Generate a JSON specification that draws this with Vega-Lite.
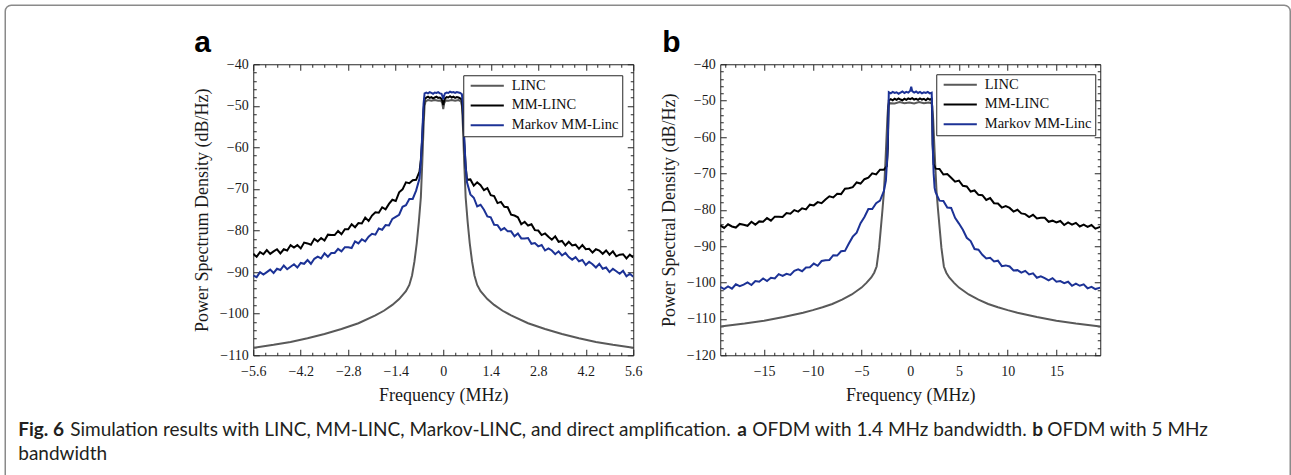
{
  "$schema": "https://vega.github.io/schema/vega-lite/v6.json",
  "background": "white",
  "padding": {"left": 4.25, "top": 4.25, "right": 0, "bottom": 0},
  "config": {
    "view": {"stroke": null},
    "axis": {"labelFont": "Liberation Serif", "titleFont": "Liberation Serif", "labelFontSize": 14, "titleFontSize": 18, "titleFontWeight": "normal", "labelColor": "#1a1a1a", "titleColor": "#1a1a1a", "tickColor": "#262626", "grid": false, "domain": false, "minExtent": 0},
    "legend": {"labelFont": "Liberation Serif", "labelFontSize": 14.5, "labelColor": "#111111", "labelLimit": 0}
  },
  "datasets": {
    "a": [
      {"s":"LINC","f":-5.6,"p":-108.2},{"s":"LINC","f":-5.0,"p":-107.5},{"s":"LINC","f":-4.5,"p":-106.8},{"s":"LINC","f":-4.0,"p":-105.9},{"s":"LINC","f":-3.5,"p":-104.9},{"s":"LINC","f":-3.0,"p":-103.7},{"s":"LINC","f":-2.5,"p":-102.3},{"s":"LINC","f":-2.0,"p":-100.4},{"s":"LINC","f":-1.75,"p":-99.3},{"s":"LINC","f":-1.5,"p":-97.9},{"s":"LINC","f":-1.3,"p":-96.5},{"s":"LINC","f":-1.1,"p":-94.6},{"s":"LINC","f":-1.0,"p":-93.1},{"s":"LINC","f":-0.92,"p":-90.8},{"s":"LINC","f":-0.85,"p":-87.5},{"s":"LINC","f":-0.78,"p":-83},{"s":"LINC","f":-0.72,"p":-78},{"s":"LINC","f":-0.66,"p":-72},{"s":"LINC","f":-0.62,"p":-64},{"s":"LINC","f":-0.58,"p":-55},{"s":"LINC","f":-0.55,"p":-50},{"s":"LINC","f":-0.52,"p":-48.9},{"s":"LINC","f":-0.45,"p":-48.6},{"s":"LINC","f":-0.35,"p":-48.8},{"s":"LINC","f":-0.25,"p":-48.6},{"s":"LINC","f":-0.15,"p":-48.8},{"s":"LINC","f":-0.07,"p":-48.7},{"s":"LINC","f":-0.03,"p":-49.3},{"s":"LINC","f":0,"p":-50.8},{"s":"LINC","f":0.03,"p":-49.3},{"s":"LINC","f":0.07,"p":-48.7},{"s":"LINC","f":0.15,"p":-48.8},{"s":"LINC","f":0.25,"p":-48.6},{"s":"LINC","f":0.35,"p":-48.8},{"s":"LINC","f":0.45,"p":-48.6},{"s":"LINC","f":0.52,"p":-48.9},{"s":"LINC","f":0.55,"p":-50},{"s":"LINC","f":0.58,"p":-55},{"s":"LINC","f":0.62,"p":-64},{"s":"LINC","f":0.66,"p":-72},{"s":"LINC","f":0.72,"p":-78},{"s":"LINC","f":0.78,"p":-83},{"s":"LINC","f":0.85,"p":-87.5},{"s":"LINC","f":0.92,"p":-90.8},{"s":"LINC","f":1.0,"p":-93.1},{"s":"LINC","f":1.1,"p":-94.6},{"s":"LINC","f":1.3,"p":-96.5},{"s":"LINC","f":1.5,"p":-97.9},{"s":"LINC","f":1.75,"p":-99.3},{"s":"LINC","f":2.0,"p":-100.4},{"s":"LINC","f":2.5,"p":-102.3},{"s":"LINC","f":3.0,"p":-103.7},{"s":"LINC","f":3.5,"p":-104.9},{"s":"LINC","f":4.0,"p":-105.9},{"s":"LINC","f":4.5,"p":-106.8},{"s":"LINC","f":5.0,"p":-107.5},{"s":"LINC","f":5.6,"p":-108.2},
      {"s":"MM-LINC","f":-5.6,"p":-85.6},{"s":"MM-LINC","f":-5.5,"p":-86.3},{"s":"MM-LINC","f":-5.4,"p":-85.2},{"s":"MM-LINC","f":-5.3,"p":-85.7},{"s":"MM-LINC","f":-5.2,"p":-84.7},{"s":"MM-LINC","f":-5.1,"p":-85.6},{"s":"MM-LINC","f":-5.0,"p":-85.0},{"s":"MM-LINC","f":-4.9,"p":-84.5},{"s":"MM-LINC","f":-4.8,"p":-85.5},{"s":"MM-LINC","f":-4.7,"p":-84.5},{"s":"MM-LINC","f":-4.6,"p":-84.8},{"s":"MM-LINC","f":-4.5,"p":-83.5},{"s":"MM-LINC","f":-4.4,"p":-84.1},{"s":"MM-LINC","f":-4.3,"p":-83.5},{"s":"MM-LINC","f":-4.2,"p":-84.3},{"s":"MM-LINC","f":-4.1,"p":-82.9},{"s":"MM-LINC","f":-4.0,"p":-83.1},{"s":"MM-LINC","f":-3.9,"p":-83.4},{"s":"MM-LINC","f":-3.8,"p":-82.0},{"s":"MM-LINC","f":-3.7,"p":-82.6},{"s":"MM-LINC","f":-3.6,"p":-81.8},{"s":"MM-LINC","f":-3.5,"p":-82.4},{"s":"MM-LINC","f":-3.4,"p":-81.0},{"s":"MM-LINC","f":-3.3,"p":-81.1},{"s":"MM-LINC","f":-3.2,"p":-81.1},{"s":"MM-LINC","f":-3.1,"p":-80.1},{"s":"MM-LINC","f":-3.0,"p":-80.9},{"s":"MM-LINC","f":-2.9,"p":-79.7},{"s":"MM-LINC","f":-2.8,"p":-79.7},{"s":"MM-LINC","f":-2.7,"p":-78.5},{"s":"MM-LINC","f":-2.6,"p":-79.2},{"s":"MM-LINC","f":-2.5,"p":-78.2},{"s":"MM-LINC","f":-2.4,"p":-78.3},{"s":"MM-LINC","f":-2.3,"p":-76.9},{"s":"MM-LINC","f":-2.2,"p":-77.7},{"s":"MM-LINC","f":-2.1,"p":-76.4},{"s":"MM-LINC","f":-2.0,"p":-75.6},{"s":"MM-LINC","f":-1.9,"p":-75.7},{"s":"MM-LINC","f":-1.8,"p":-74.4},{"s":"MM-LINC","f":-1.7,"p":-74.9},{"s":"MM-LINC","f":-1.6,"p":-73.6},{"s":"MM-LINC","f":-1.5,"p":-72.6},{"s":"MM-LINC","f":-1.4,"p":-72.9},{"s":"MM-LINC","f":-1.3,"p":-70.8},{"s":"MM-LINC","f":-1.2,"p":-70.1},{"s":"MM-LINC","f":-1.1,"p":-68.4},{"s":"MM-LINC","f":-1.0,"p":-68.6},{"s":"MM-LINC","f":-0.9,"p":-67.9},{"s":"MM-LINC","f":-0.8,"p":-67.8},{"s":"MM-LINC","f":-0.7,"p":-65.8},{"s":"MM-LINC","f":-0.66,"p":-63},{"s":"MM-LINC","f":-0.62,"p":-58},{"s":"MM-LINC","f":-0.58,"p":-51},{"s":"MM-LINC","f":-0.55,"p":-48.4},{"s":"MM-LINC","f":-0.5,"p":-48.0},{"s":"MM-LINC","f":-0.45,"p":-47.8},{"s":"MM-LINC","f":-0.4,"p":-48.1},{"s":"MM-LINC","f":-0.35,"p":-47.9},{"s":"MM-LINC","f":-0.3,"p":-48.2},{"s":"MM-LINC","f":-0.25,"p":-48.0},{"s":"MM-LINC","f":-0.2,"p":-47.8},{"s":"MM-LINC","f":-0.15,"p":-48.1},{"s":"MM-LINC","f":-0.1,"p":-48.0},{"s":"MM-LINC","f":-0.05,"p":-48.3},{"s":"MM-LINC","f":-0.02,"p":-49.0},{"s":"MM-LINC","f":0,"p":-49.8},{"s":"MM-LINC","f":0.02,"p":-49.0},{"s":"MM-LINC","f":0.05,"p":-48.2},{"s":"MM-LINC","f":0.1,"p":-47.9},{"s":"MM-LINC","f":0.15,"p":-48.0},{"s":"MM-LINC","f":0.2,"p":-47.7},{"s":"MM-LINC","f":0.25,"p":-48.0},{"s":"MM-LINC","f":0.3,"p":-47.8},{"s":"MM-LINC","f":0.35,"p":-48.1},{"s":"MM-LINC","f":0.4,"p":-47.9},{"s":"MM-LINC","f":0.45,"p":-48.0},{"s":"MM-LINC","f":0.5,"p":-48.2},{"s":"MM-LINC","f":0.55,"p":-48.5},{"s":"MM-LINC","f":0.58,"p":-52},{"s":"MM-LINC","f":0.62,"p":-59},{"s":"MM-LINC","f":0.66,"p":-64.5},{"s":"MM-LINC","f":0.7,"p":-67.8},{"s":"MM-LINC","f":0.8,"p":-67.7},{"s":"MM-LINC","f":0.9,"p":-69.2},{"s":"MM-LINC","f":1.0,"p":-68.4},{"s":"MM-LINC","f":1.1,"p":-69.1},{"s":"MM-LINC","f":1.2,"p":-70.3},{"s":"MM-LINC","f":1.3,"p":-69.8},{"s":"MM-LINC","f":1.4,"p":-71.5},{"s":"MM-LINC","f":1.5,"p":-71.7},{"s":"MM-LINC","f":1.6,"p":-73.4},{"s":"MM-LINC","f":1.7,"p":-73.1},{"s":"MM-LINC","f":1.8,"p":-74.3},{"s":"MM-LINC","f":1.9,"p":-74.4},{"s":"MM-LINC","f":2.0,"p":-76.2},{"s":"MM-LINC","f":2.1,"p":-76.4},{"s":"MM-LINC","f":2.2,"p":-76.8},{"s":"MM-LINC","f":2.3,"p":-78.5},{"s":"MM-LINC","f":2.4,"p":-77.9},{"s":"MM-LINC","f":2.5,"p":-78.8},{"s":"MM-LINC","f":2.6,"p":-78.5},{"s":"MM-LINC","f":2.7,"p":-79.9},{"s":"MM-LINC","f":2.8,"p":-80.0},{"s":"MM-LINC","f":2.9,"p":-81.1},{"s":"MM-LINC","f":3.0,"p":-80.7},{"s":"MM-LINC","f":3.1,"p":-81.5},{"s":"MM-LINC","f":3.2,"p":-82.2},{"s":"MM-LINC","f":3.3,"p":-81.4},{"s":"MM-LINC","f":3.4,"p":-82.7},{"s":"MM-LINC","f":3.5,"p":-82.5},{"s":"MM-LINC","f":3.6,"p":-83.6},{"s":"MM-LINC","f":3.7,"p":-82.7},{"s":"MM-LINC","f":3.8,"p":-83.6},{"s":"MM-LINC","f":3.9,"p":-83.4},{"s":"MM-LINC","f":4.0,"p":-84.4},{"s":"MM-LINC","f":4.1,"p":-83.5},{"s":"MM-LINC","f":4.2,"p":-84.5},{"s":"MM-LINC","f":4.3,"p":-84.4},{"s":"MM-LINC","f":4.4,"p":-85.3},{"s":"MM-LINC","f":4.5,"p":-84.5},{"s":"MM-LINC","f":4.6,"p":-84.8},{"s":"MM-LINC","f":4.7,"p":-85.6},{"s":"MM-LINC","f":4.8,"p":-84.8},{"s":"MM-LINC","f":4.9,"p":-85.8},{"s":"MM-LINC","f":5.0,"p":-85.0},{"s":"MM-LINC","f":5.1,"p":-86.2},{"s":"MM-LINC","f":5.2,"p":-85.8},{"s":"MM-LINC","f":5.3,"p":-85.7},{"s":"MM-LINC","f":5.4,"p":-86.7},{"s":"MM-LINC","f":5.5,"p":-85.8},{"s":"MM-LINC","f":5.6,"p":-86.5},
      {"s":"Markov MM-Linc","f":-5.6,"p":-90.8},{"s":"Markov MM-Linc","f":-5.5,"p":-91.2},{"s":"Markov MM-Linc","f":-5.4,"p":-90.0},{"s":"Markov MM-Linc","f":-5.3,"p":-90.6},{"s":"Markov MM-Linc","f":-5.2,"p":-90.0},{"s":"Markov MM-Linc","f":-5.1,"p":-89.4},{"s":"Markov MM-Linc","f":-5.0,"p":-90.2},{"s":"Markov MM-Linc","f":-4.9,"p":-89.2},{"s":"Markov MM-Linc","f":-4.8,"p":-89.5},{"s":"Markov MM-Linc","f":-4.7,"p":-88.4},{"s":"Markov MM-Linc","f":-4.6,"p":-89.3},{"s":"Markov MM-Linc","f":-4.5,"p":-88.7},{"s":"Markov MM-Linc","f":-4.4,"p":-88.1},{"s":"Markov MM-Linc","f":-4.3,"p":-88.9},{"s":"Markov MM-Linc","f":-4.2,"p":-87.8},{"s":"Markov MM-Linc","f":-4.1,"p":-88.0},{"s":"Markov MM-Linc","f":-4.0,"p":-87.1},{"s":"Markov MM-Linc","f":-3.9,"p":-88.0},{"s":"Markov MM-Linc","f":-3.8,"p":-86.8},{"s":"Markov MM-Linc","f":-3.7,"p":-86.3},{"s":"Markov MM-Linc","f":-3.6,"p":-86.7},{"s":"Markov MM-Linc","f":-3.5,"p":-85.5},{"s":"Markov MM-Linc","f":-3.4,"p":-86.3},{"s":"Markov MM-Linc","f":-3.3,"p":-85.4},{"s":"Markov MM-Linc","f":-3.2,"p":-85.4},{"s":"Markov MM-Linc","f":-3.1,"p":-84.4},{"s":"Markov MM-Linc","f":-3.0,"p":-85.0},{"s":"Markov MM-Linc","f":-2.9,"p":-84.0},{"s":"Markov MM-Linc","f":-2.8,"p":-84.0},{"s":"Markov MM-Linc","f":-2.7,"p":-84.2},{"s":"Markov MM-Linc","f":-2.6,"p":-82.6},{"s":"Markov MM-Linc","f":-2.5,"p":-83.1},{"s":"Markov MM-Linc","f":-2.4,"p":-82.1},{"s":"Markov MM-Linc","f":-2.3,"p":-82.6},{"s":"Markov MM-Linc","f":-2.2,"p":-81.5},{"s":"Markov MM-Linc","f":-2.1,"p":-80.8},{"s":"Markov MM-Linc","f":-2.0,"p":-81.0},{"s":"Markov MM-Linc","f":-1.9,"p":-79.5},{"s":"Markov MM-Linc","f":-1.8,"p":-79.8},{"s":"Markov MM-Linc","f":-1.7,"p":-78.7},{"s":"Markov MM-Linc","f":-1.6,"p":-78.8},{"s":"Markov MM-Linc","f":-1.5,"p":-77.2},{"s":"Markov MM-Linc","f":-1.4,"p":-76.7},{"s":"Markov MM-Linc","f":-1.3,"p":-76.2},{"s":"Markov MM-Linc","f":-1.2,"p":-74.3},{"s":"Markov MM-Linc","f":-1.1,"p":-73.9},{"s":"Markov MM-Linc","f":-1.0,"p":-72.4},{"s":"Markov MM-Linc","f":-0.9,"p":-72.4},{"s":"Markov MM-Linc","f":-0.8,"p":-70.4},{"s":"Markov MM-Linc","f":-0.7,"p":-67.5},{"s":"Markov MM-Linc","f":-0.66,"p":-63.5},{"s":"Markov MM-Linc","f":-0.62,"p":-57},{"s":"Markov MM-Linc","f":-0.58,"p":-49.5},{"s":"Markov MM-Linc","f":-0.55,"p":-47.0},{"s":"Markov MM-Linc","f":-0.5,"p":-46.8},{"s":"Markov MM-Linc","f":-0.45,"p":-47.0},{"s":"Markov MM-Linc","f":-0.4,"p":-46.7},{"s":"Markov MM-Linc","f":-0.35,"p":-46.9},{"s":"Markov MM-Linc","f":-0.3,"p":-47.1},{"s":"Markov MM-Linc","f":-0.25,"p":-46.8},{"s":"Markov MM-Linc","f":-0.2,"p":-46.9},{"s":"Markov MM-Linc","f":-0.15,"p":-46.7},{"s":"Markov MM-Linc","f":-0.1,"p":-47.0},{"s":"Markov MM-Linc","f":-0.05,"p":-47.1},{"s":"Markov MM-Linc","f":-0.02,"p":-47.8},{"s":"Markov MM-Linc","f":0,"p":-48.4},{"s":"Markov MM-Linc","f":0.02,"p":-47.7},{"s":"Markov MM-Linc","f":0.05,"p":-47.0},{"s":"Markov MM-Linc","f":0.1,"p":-46.8},{"s":"Markov MM-Linc","f":0.15,"p":-46.9},{"s":"Markov MM-Linc","f":0.2,"p":-46.6},{"s":"Markov MM-Linc","f":0.25,"p":-46.8},{"s":"Markov MM-Linc","f":0.3,"p":-46.7},{"s":"Markov MM-Linc","f":0.35,"p":-46.9},{"s":"Markov MM-Linc","f":0.4,"p":-46.7},{"s":"Markov MM-Linc","f":0.45,"p":-46.8},{"s":"Markov MM-Linc","f":0.5,"p":-46.9},{"s":"Markov MM-Linc","f":0.55,"p":-47.2},{"s":"Markov MM-Linc","f":0.58,"p":-50},{"s":"Markov MM-Linc","f":0.62,"p":-58},{"s":"Markov MM-Linc","f":0.66,"p":-64.5},{"s":"Markov MM-Linc","f":0.7,"p":-68.4},{"s":"Markov MM-Linc","f":0.8,"p":-71.3},{"s":"Markov MM-Linc","f":0.9,"p":-72.1},{"s":"Markov MM-Linc","f":1.0,"p":-74.2},{"s":"Markov MM-Linc","f":1.1,"p":-73.8},{"s":"Markov MM-Linc","f":1.2,"p":-75.0},{"s":"Markov MM-Linc","f":1.3,"p":-76.6},{"s":"Markov MM-Linc","f":1.4,"p":-76.8},{"s":"Markov MM-Linc","f":1.5,"p":-78.6},{"s":"Markov MM-Linc","f":1.6,"p":-78.7},{"s":"Markov MM-Linc","f":1.7,"p":-79.9},{"s":"Markov MM-Linc","f":1.8,"p":-79.4},{"s":"Markov MM-Linc","f":1.9,"p":-80.2},{"s":"Markov MM-Linc","f":2.0,"p":-80.2},{"s":"Markov MM-Linc","f":2.1,"p":-81.4},{"s":"Markov MM-Linc","f":2.2,"p":-80.7},{"s":"Markov MM-Linc","f":2.3,"p":-81.9},{"s":"Markov MM-Linc","f":2.4,"p":-81.9},{"s":"Markov MM-Linc","f":2.5,"p":-81.8},{"s":"Markov MM-Linc","f":2.6,"p":-83.2},{"s":"Markov MM-Linc","f":2.7,"p":-83.0},{"s":"Markov MM-Linc","f":2.8,"p":-83.8},{"s":"Markov MM-Linc","f":2.9,"p":-83.5},{"s":"Markov MM-Linc","f":3.0,"p":-84.8},{"s":"Markov MM-Linc","f":3.1,"p":-84.3},{"s":"Markov MM-Linc","f":3.2,"p":-84.8},{"s":"Markov MM-Linc","f":3.3,"p":-85.7},{"s":"Markov MM-Linc","f":3.4,"p":-85.0},{"s":"Markov MM-Linc","f":3.5,"p":-86.0},{"s":"Markov MM-Linc","f":3.6,"p":-85.4},{"s":"Markov MM-Linc","f":3.7,"p":-86.4},{"s":"Markov MM-Linc","f":3.8,"p":-87.0},{"s":"Markov MM-Linc","f":3.9,"p":-86.4},{"s":"Markov MM-Linc","f":4.0,"p":-87.4},{"s":"Markov MM-Linc","f":4.1,"p":-87.1},{"s":"Markov MM-Linc","f":4.2,"p":-88.3},{"s":"Markov MM-Linc","f":4.3,"p":-87.5},{"s":"Markov MM-Linc","f":4.4,"p":-88.1},{"s":"Markov MM-Linc","f":4.5,"p":-88.9},{"s":"Markov MM-Linc","f":4.6,"p":-88.0},{"s":"Markov MM-Linc","f":4.7,"p":-89.2},{"s":"Markov MM-Linc","f":4.8,"p":-88.9},{"s":"Markov MM-Linc","f":4.9,"p":-90.0},{"s":"Markov MM-Linc","f":5.0,"p":-89.2},{"s":"Markov MM-Linc","f":5.1,"p":-89.8},{"s":"Markov MM-Linc","f":5.2,"p":-90.4},{"s":"Markov MM-Linc","f":5.3,"p":-89.7},{"s":"Markov MM-Linc","f":5.4,"p":-91.0},{"s":"Markov MM-Linc","f":5.5,"p":-90.4},{"s":"Markov MM-Linc","f":5.6,"p":-91.1}
    ],
    "b": [
      {"s":"LINC","f":-19.5,"p":-112.1},{"s":"LINC","f":-17,"p":-111.3},{"s":"LINC","f":-15,"p":-110.5},{"s":"LINC","f":-13,"p":-109.5},{"s":"LINC","f":-11,"p":-108.3},{"s":"LINC","f":-10,"p":-107.6},{"s":"LINC","f":-9,"p":-106.8},{"s":"LINC","f":-8,"p":-105.9},{"s":"LINC","f":-7,"p":-104.7},{"s":"LINC","f":-6,"p":-103.3},{"s":"LINC","f":-5,"p":-101.4},{"s":"LINC","f":-4.5,"p":-100.1},{"s":"LINC","f":-4,"p":-98.6},{"s":"LINC","f":-3.7,"p":-97.3},{"s":"LINC","f":-3.45,"p":-95.6},{"s":"LINC","f":-3.2,"p":-90.5},{"s":"LINC","f":-3.05,"p":-86},{"s":"LINC","f":-2.85,"p":-80},{"s":"LINC","f":-2.7,"p":-75},{"s":"LINC","f":-2.55,"p":-67},{"s":"LINC","f":-2.45,"p":-61},{"s":"LINC","f":-2.35,"p":-55},{"s":"LINC","f":-2.27,"p":-51.5},{"s":"LINC","f":-2.2,"p":-50.7},{"s":"LINC","f":-1.6,"p":-50.8},{"s":"LINC","f":-1.1,"p":-50.4},{"s":"LINC","f":-0.6,"p":-50.7},{"s":"LINC","f":-0.1,"p":-50.5},{"s":"LINC","f":0.4,"p":-50.8},{"s":"LINC","f":0.9,"p":-50.4},{"s":"LINC","f":1.4,"p":-50.7},{"s":"LINC","f":1.9,"p":-50.5},{"s":"LINC","f":2.2,"p":-50.7},{"s":"LINC","f":2.27,"p":-51.5},{"s":"LINC","f":2.35,"p":-55},{"s":"LINC","f":2.45,"p":-61},{"s":"LINC","f":2.55,"p":-67},{"s":"LINC","f":2.7,"p":-75},{"s":"LINC","f":2.85,"p":-80},{"s":"LINC","f":3.05,"p":-86},{"s":"LINC","f":3.2,"p":-90.5},{"s":"LINC","f":3.45,"p":-95.6},{"s":"LINC","f":3.7,"p":-97.3},{"s":"LINC","f":4,"p":-98.6},{"s":"LINC","f":4.5,"p":-100.1},{"s":"LINC","f":5,"p":-101.4},{"s":"LINC","f":6,"p":-103.3},{"s":"LINC","f":7,"p":-104.7},{"s":"LINC","f":8,"p":-105.9},{"s":"LINC","f":9,"p":-106.8},{"s":"LINC","f":10,"p":-107.6},{"s":"LINC","f":11,"p":-108.3},{"s":"LINC","f":13,"p":-109.5},{"s":"LINC","f":15,"p":-110.5},{"s":"LINC","f":17,"p":-111.3},{"s":"LINC","f":19.5,"p":-112.1},
      {"s":"MM-LINC","f":-19.5,"p":-84.3},{"s":"MM-LINC","f":-19.1,"p":-85.0},{"s":"MM-LINC","f":-18.7,"p":-84.0},{"s":"MM-LINC","f":-18.3,"p":-84.6},{"s":"MM-LINC","f":-17.9,"p":-84.9},{"s":"MM-LINC","f":-17.5,"p":-83.9},{"s":"MM-LINC","f":-17.1,"p":-84.1},{"s":"MM-LINC","f":-16.7,"p":-84.4},{"s":"MM-LINC","f":-16.3,"p":-83.3},{"s":"MM-LINC","f":-15.9,"p":-84.1},{"s":"MM-LINC","f":-15.5,"p":-83.2},{"s":"MM-LINC","f":-15.1,"p":-83.3},{"s":"MM-LINC","f":-14.7,"p":-82.3},{"s":"MM-LINC","f":-14.3,"p":-83.0},{"s":"MM-LINC","f":-13.9,"p":-81.9},{"s":"MM-LINC","f":-13.5,"p":-81.9},{"s":"MM-LINC","f":-13.1,"p":-82.0},{"s":"MM-LINC","f":-12.7,"p":-80.9},{"s":"MM-LINC","f":-12.3,"p":-81.1},{"s":"MM-LINC","f":-11.9,"p":-80.1},{"s":"MM-LINC","f":-11.5,"p":-80.5},{"s":"MM-LINC","f":-11.1,"p":-79.6},{"s":"MM-LINC","f":-10.7,"p":-79.9},{"s":"MM-LINC","f":-10.3,"p":-78.6},{"s":"MM-LINC","f":-9.9,"p":-78.8},{"s":"MM-LINC","f":-9.5,"p":-77.9},{"s":"MM-LINC","f":-9.1,"p":-78.2},{"s":"MM-LINC","f":-8.7,"p":-77.2},{"s":"MM-LINC","f":-8.3,"p":-76.3},{"s":"MM-LINC","f":-7.9,"p":-76.6},{"s":"MM-LINC","f":-7.5,"p":-75.6},{"s":"MM-LINC","f":-7.1,"p":-75.7},{"s":"MM-LINC","f":-6.7,"p":-74.2},{"s":"MM-LINC","f":-6.3,"p":-74.1},{"s":"MM-LINC","f":-5.9,"p":-73.8},{"s":"MM-LINC","f":-5.5,"p":-72.5},{"s":"MM-LINC","f":-5.1,"p":-72.8},{"s":"MM-LINC","f":-4.7,"p":-71.6},{"s":"MM-LINC","f":-4.3,"p":-71.2},{"s":"MM-LINC","f":-3.9,"p":-70.0},{"s":"MM-LINC","f":-3.5,"p":-70.3},{"s":"MM-LINC","f":-3.1,"p":-69.0},{"s":"MM-LINC","f":-2.7,"p":-69.0},{"s":"MM-LINC","f":-2.4,"p":-68.0},{"s":"MM-LINC","f":-2.3,"p":-63},{"s":"MM-LINC","f":-2.25,"p":-55},{"s":"MM-LINC","f":-2.2,"p":-49.9},{"s":"MM-LINC","f":-2.0,"p":-49.6},{"s":"MM-LINC","f":-1.8,"p":-49.9},{"s":"MM-LINC","f":-1.6,"p":-49.5},{"s":"MM-LINC","f":-1.4,"p":-49.8},{"s":"MM-LINC","f":-1.2,"p":-49.4},{"s":"MM-LINC","f":-1.0,"p":-49.7},{"s":"MM-LINC","f":-0.8,"p":-49.9},{"s":"MM-LINC","f":-0.6,"p":-49.5},{"s":"MM-LINC","f":-0.4,"p":-49.8},{"s":"MM-LINC","f":-0.2,"p":-49.4},{"s":"MM-LINC","f":0.0,"p":-49.6},{"s":"MM-LINC","f":0.2,"p":-49.3},{"s":"MM-LINC","f":0.4,"p":-49.7},{"s":"MM-LINC","f":0.6,"p":-49.5},{"s":"MM-LINC","f":0.8,"p":-49.8},{"s":"MM-LINC","f":1.0,"p":-49.4},{"s":"MM-LINC","f":1.2,"p":-49.7},{"s":"MM-LINC","f":1.4,"p":-49.5},{"s":"MM-LINC","f":1.6,"p":-49.9},{"s":"MM-LINC","f":1.8,"p":-49.4},{"s":"MM-LINC","f":2.0,"p":-49.7},{"s":"MM-LINC","f":2.2,"p":-49.5},{"s":"MM-LINC","f":2.25,"p":-54},{"s":"MM-LINC","f":2.3,"p":-62},{"s":"MM-LINC","f":2.4,"p":-67.5},{"s":"MM-LINC","f":2.6,"p":-68.7},{"s":"MM-LINC","f":3.0,"p":-68.8},{"s":"MM-LINC","f":3.4,"p":-70.3},{"s":"MM-LINC","f":3.8,"p":-70.2},{"s":"MM-LINC","f":4.2,"p":-71.2},{"s":"MM-LINC","f":4.6,"p":-72.3},{"s":"MM-LINC","f":5.0,"p":-72.0},{"s":"MM-LINC","f":5.4,"p":-73.4},{"s":"MM-LINC","f":5.8,"p":-73.6},{"s":"MM-LINC","f":6.2,"p":-75.0},{"s":"MM-LINC","f":6.6,"p":-74.7},{"s":"MM-LINC","f":7.0,"p":-75.9},{"s":"MM-LINC","f":7.4,"p":-76.0},{"s":"MM-LINC","f":7.8,"p":-77.3},{"s":"MM-LINC","f":8.2,"p":-76.8},{"s":"MM-LINC","f":8.6,"p":-78.2},{"s":"MM-LINC","f":9.0,"p":-78.3},{"s":"MM-LINC","f":9.4,"p":-79.4},{"s":"MM-LINC","f":9.8,"p":-79.0},{"s":"MM-LINC","f":10.2,"p":-79.5},{"s":"MM-LINC","f":10.6,"p":-80.5},{"s":"MM-LINC","f":11.0,"p":-80.0},{"s":"MM-LINC","f":11.4,"p":-81.0},{"s":"MM-LINC","f":11.8,"p":-81.2},{"s":"MM-LINC","f":12.2,"p":-82.0},{"s":"MM-LINC","f":12.6,"p":-81.4},{"s":"MM-LINC","f":13.0,"p":-82.4},{"s":"MM-LINC","f":13.4,"p":-82.2},{"s":"MM-LINC","f":13.8,"p":-82.2},{"s":"MM-LINC","f":14.2,"p":-83.3},{"s":"MM-LINC","f":14.6,"p":-83.0},{"s":"MM-LINC","f":15.0,"p":-83.5},{"s":"MM-LINC","f":15.4,"p":-83.1},{"s":"MM-LINC","f":15.8,"p":-84.2},{"s":"MM-LINC","f":16.2,"p":-83.5},{"s":"MM-LINC","f":16.6,"p":-84.1},{"s":"MM-LINC","f":17.0,"p":-83.6},{"s":"MM-LINC","f":17.4,"p":-84.6},{"s":"MM-LINC","f":17.8,"p":-84.1},{"s":"MM-LINC","f":18.2,"p":-84.7},{"s":"MM-LINC","f":18.6,"p":-84.2},{"s":"MM-LINC","f":19.0,"p":-85.2},{"s":"MM-LINC","f":19.5,"p":-84.7},
      {"s":"Markov MM-Linc","f":-19.5,"p":-101.2},{"s":"Markov MM-Linc","f":-19.1,"p":-101.8},{"s":"Markov MM-Linc","f":-18.7,"p":-101.1},{"s":"Markov MM-Linc","f":-18.3,"p":-101.7},{"s":"Markov MM-Linc","f":-17.9,"p":-100.5},{"s":"Markov MM-Linc","f":-17.5,"p":-101.0},{"s":"Markov MM-Linc","f":-17.1,"p":-100.6},{"s":"Markov MM-Linc","f":-16.7,"p":-100.0},{"s":"Markov MM-Linc","f":-16.3,"p":-100.7},{"s":"Markov MM-Linc","f":-15.9,"p":-99.6},{"s":"Markov MM-Linc","f":-15.5,"p":-99.8},{"s":"Markov MM-Linc","f":-15.1,"p":-98.9},{"s":"Markov MM-Linc","f":-14.7,"p":-99.6},{"s":"Markov MM-Linc","f":-14.3,"p":-98.7},{"s":"Markov MM-Linc","f":-13.9,"p":-98.9},{"s":"Markov MM-Linc","f":-13.5,"p":-97.7},{"s":"Markov MM-Linc","f":-13.1,"p":-98.2},{"s":"Markov MM-Linc","f":-12.7,"p":-97.6},{"s":"Markov MM-Linc","f":-12.3,"p":-97.9},{"s":"Markov MM-Linc","f":-11.9,"p":-96.8},{"s":"Markov MM-Linc","f":-11.5,"p":-96.4},{"s":"Markov MM-Linc","f":-11.1,"p":-96.9},{"s":"Markov MM-Linc","f":-10.7,"p":-95.9},{"s":"Markov MM-Linc","f":-10.3,"p":-95.8},{"s":"Markov MM-Linc","f":-9.9,"p":-94.8},{"s":"Markov MM-Linc","f":-9.5,"p":-95.4},{"s":"Markov MM-Linc","f":-9.1,"p":-94.1},{"s":"Markov MM-Linc","f":-8.7,"p":-93.9},{"s":"Markov MM-Linc","f":-8.3,"p":-93.8},{"s":"Markov MM-Linc","f":-7.9,"p":-92.5},{"s":"Markov MM-Linc","f":-7.5,"p":-92.6},{"s":"Markov MM-Linc","f":-7.1,"p":-91.4},{"s":"Markov MM-Linc","f":-6.7,"p":-91.3},{"s":"Markov MM-Linc","f":-6.3,"p":-89.3},{"s":"Markov MM-Linc","f":-5.9,"p":-87.4},{"s":"Markov MM-Linc","f":-5.5,"p":-86.3},{"s":"Markov MM-Linc","f":-5.1,"p":-83.7},{"s":"Markov MM-Linc","f":-4.7,"p":-82.0},{"s":"Markov MM-Linc","f":-4.3,"p":-79.8},{"s":"Markov MM-Linc","f":-3.9,"p":-79.8},{"s":"Markov MM-Linc","f":-3.5,"p":-78.2},{"s":"Markov MM-Linc","f":-3.1,"p":-77.5},{"s":"Markov MM-Linc","f":-2.7,"p":-74.8},{"s":"Markov MM-Linc","f":-2.5,"p":-72.0},{"s":"Markov MM-Linc","f":-2.35,"p":-65.0},{"s":"Markov MM-Linc","f":-2.25,"p":-55.0},{"s":"Markov MM-Linc","f":-2.2,"p":-47.7},{"s":"Markov MM-Linc","f":-2.0,"p":-48.0},{"s":"Markov MM-Linc","f":-1.8,"p":-47.6},{"s":"Markov MM-Linc","f":-1.6,"p":-47.9},{"s":"Markov MM-Linc","f":-1.4,"p":-47.7},{"s":"Markov MM-Linc","f":-1.2,"p":-48.1},{"s":"Markov MM-Linc","f":-1.0,"p":-47.8},{"s":"Markov MM-Linc","f":-0.8,"p":-47.5},{"s":"Markov MM-Linc","f":-0.6,"p":-47.9},{"s":"Markov MM-Linc","f":-0.4,"p":-47.6},{"s":"Markov MM-Linc","f":-0.2,"p":-47.8},{"s":"Markov MM-Linc","f":0.0,"p":-47.3},{"s":"Markov MM-Linc","f":0.1,"p":-46.2},{"s":"Markov MM-Linc","f":0.2,"p":-47.4},{"s":"Markov MM-Linc","f":0.4,"p":-47.8},{"s":"Markov MM-Linc","f":0.6,"p":-47.5},{"s":"Markov MM-Linc","f":0.8,"p":-47.9},{"s":"Markov MM-Linc","f":1.0,"p":-47.6},{"s":"Markov MM-Linc","f":1.2,"p":-48.0},{"s":"Markov MM-Linc","f":1.4,"p":-47.7},{"s":"Markov MM-Linc","f":1.6,"p":-47.9},{"s":"Markov MM-Linc","f":1.8,"p":-47.6},{"s":"Markov MM-Linc","f":2.0,"p":-48.0},{"s":"Markov MM-Linc","f":2.2,"p":-47.8},{"s":"Markov MM-Linc","f":2.25,"p":-53},{"s":"Markov MM-Linc","f":2.3,"p":-62},{"s":"Markov MM-Linc","f":2.4,"p":-70},{"s":"Markov MM-Linc","f":2.5,"p":-74},{"s":"Markov MM-Linc","f":2.6,"p":-75.2},{"s":"Markov MM-Linc","f":3.0,"p":-77.5},{"s":"Markov MM-Linc","f":3.4,"p":-77.6},{"s":"Markov MM-Linc","f":3.8,"p":-79.4},{"s":"Markov MM-Linc","f":4.2,"p":-79.5},{"s":"Markov MM-Linc","f":4.6,"p":-82.2},{"s":"Markov MM-Linc","f":5.0,"p":-83.8},{"s":"Markov MM-Linc","f":5.4,"p":-85.5},{"s":"Markov MM-Linc","f":5.8,"p":-87.7},{"s":"Markov MM-Linc","f":6.2,"p":-88.6},{"s":"Markov MM-Linc","f":6.6,"p":-90.8},{"s":"Markov MM-Linc","f":7.0,"p":-91.0},{"s":"Markov MM-Linc","f":7.4,"p":-92.4},{"s":"Markov MM-Linc","f":7.8,"p":-93.4},{"s":"Markov MM-Linc","f":8.2,"p":-93.2},{"s":"Markov MM-Linc","f":8.6,"p":-94.2},{"s":"Markov MM-Linc","f":9.0,"p":-94.0},{"s":"Markov MM-Linc","f":9.4,"p":-95.5},{"s":"Markov MM-Linc","f":9.8,"p":-95.3},{"s":"Markov MM-Linc","f":10.2,"p":-95.6},{"s":"Markov MM-Linc","f":10.6,"p":-96.7},{"s":"Markov MM-Linc","f":11.0,"p":-96.6},{"s":"Markov MM-Linc","f":11.4,"p":-97.3},{"s":"Markov MM-Linc","f":11.8,"p":-96.8},{"s":"Markov MM-Linc","f":12.2,"p":-97.8},{"s":"Markov MM-Linc","f":12.6,"p":-97.5},{"s":"Markov MM-Linc","f":13.0,"p":-98.7},{"s":"Markov MM-Linc","f":13.4,"p":-98.3},{"s":"Markov MM-Linc","f":13.8,"p":-98.8},{"s":"Markov MM-Linc","f":14.2,"p":-99.4},{"s":"Markov MM-Linc","f":14.6,"p":-98.8},{"s":"Markov MM-Linc","f":15.0,"p":-99.8},{"s":"Markov MM-Linc","f":15.4,"p":-99.6},{"s":"Markov MM-Linc","f":15.8,"p":-100.2},{"s":"Markov MM-Linc","f":16.2,"p":-99.8},{"s":"Markov MM-Linc","f":16.6,"p":-100.9},{"s":"Markov MM-Linc","f":17.0,"p":-100.3},{"s":"Markov MM-Linc","f":17.4,"p":-100.9},{"s":"Markov MM-Linc","f":17.8,"p":-100.5},{"s":"Markov MM-Linc","f":18.2,"p":-101.6},{"s":"Markov MM-Linc","f":18.6,"p":-101.2},{"s":"Markov MM-Linc","f":19.0,"p":-101.8},{"s":"Markov MM-Linc","f":19.5,"p":-101.4}
    ]
  },
  "resolve": {"scale": {"color": "independent"}, "legend": {"color": "independent"}},
  "bounds": "flush",
  "spacing": 291,
  "vconcat": [
    {
      "hconcat": [
        {"width": 161, "height": 291, "data": {"values": []}, "mark": {"type": "text"}},
        {
          "width": 380, "height": 291,
          "data": {"name": "a"},
          "title": {"text": "a", "anchor": "start", "frame": "group", "dx": -59, "offset": -25, "baseline": "alphabetic", "font": "Liberation Sans", "fontSize": 30, "fontWeight": "bold", "color": "#000000"},
          "view": {"stroke": "#262626", "strokeWidth": 1, "fill": "white"},
          "resolve": {"axis": {"x": "independent", "y": "independent"}},
          "layer": [
            {
              "mark": {"type": "line", "strokeWidth": 2, "clip": true},
              "encoding": {
                "x": {"field": "f", "type": "quantitative", "scale": {"domain": [-5.6, 5.6], "nice": false, "zero": false},
                      "axis": {"orient": "bottom", "values": [-5.6, -4.2, -2.8, -1.4, 0, 1.4, 2.8, 4.2, 5.6], "labelExpr": "datum.value == 0 ? '0' : format(datum.value, '.1f')", "ticks": false, "labelPadding": 9, "labelFlush": false, "title": "Frequency (MHz)", "titlePadding": 8}},
                "y": {"field": "p", "type": "quantitative", "scale": {"domain": [-110, -40], "nice": false, "zero": false},
                      "axis": {"orient": "left", "values": [-110, -100, -90, -80, -70, -60, -50, -40], "ticks": false, "labelPadding": 5, "title": "Power Spectrum Density (dB/Hz)", "titlePadding": 8}},
                "color": {"field": "s", "type": "nominal",
                          "scale": {"domain": ["LINC", "MM-LINC", "Markov MM-Linc"], "range": ["#595959", "#000000", "#1c3296"]},
                          "legend": {"orient": "top-right", "offset": 11, "title": null, "padding": 3.5, "rowPadding": 4.7, "clipHeight": 14, "fillColor": "white", "strokeColor": "#262626", "symbolType": "stroke", "symbolSize": 1100, "symbolStrokeWidth": 2, "symbolOffset": 2.5, "labelOffset": 6.5}}
              }
            },
            {
              "data": {"values": [{}]},
              "mark": {"type": "point", "opacity": 0},
              "encoding": {
                "x": {"datum": 0, "type": "quantitative", "scale": {"domain": [-5.6, 5.6], "nice": false, "zero": false}, "axis": {"orient": "bottom", "values": [-5.6, -4.2, -2.8, -1.4, 0, 1.4, 2.8, 4.2, 5.6], "labels": false, "tickSize": -6, "title": null}},
                "y": {"datum": -50, "type": "quantitative", "scale": {"domain": [-110, -40], "nice": false, "zero": false}, "axis": {"orient": "left", "values": [-110, -100, -90, -80, -70, -60, -50, -40], "labels": false, "tickSize": -6, "title": null}}
              }
            },
            {
              "data": {"values": [{}]},
              "mark": {"type": "point", "opacity": 0},
              "encoding": {
                "x": {"datum": 0, "type": "quantitative", "axis": {"orient": "bottom", "values": [-5.25, -4.9, -4.55, -3.85, -3.5, -3.15, -2.45, -2.1, -1.75, -1.05, -0.7, -0.35, 0.35, 0.7, 1.05, 1.75, 2.1, 2.45, 3.15, 3.5, 3.85, 4.55, 4.9, 5.25], "labels": false, "tickSize": -3, "title": null}},
                "y": {"datum": -50, "type": "quantitative", "axis": {"orient": "left", "values": [-108, -106, -104, -102, -98, -96, -94, -92, -88, -86, -84, -82, -78, -76, -74, -72, -68, -66, -64, -62, -58, -56, -54, -52, -48, -46, -44, -42], "labels": false, "tickSize": -3, "title": null}}
              }
            },
            {
              "data": {"values": [{}]},
              "mark": {"type": "point", "opacity": 0},
              "encoding": {
                "x": {"datum": 0, "type": "quantitative", "axis": {"orient": "top", "values": [-5.6, -4.2, -2.8, -1.4, 0, 1.4, 2.8, 4.2, 5.6], "labels": false, "tickSize": -6, "title": null}},
                "y": {"datum": -50, "type": "quantitative", "axis": {"orient": "right", "values": [-110, -100, -90, -80, -70, -60, -50, -40], "labels": false, "tickSize": -6, "title": null}}
              }
            },
            {
              "data": {"values": [{}]},
              "mark": {"type": "point", "opacity": 0},
              "encoding": {
                "x": {"datum": 0, "type": "quantitative", "axis": {"orient": "top", "values": [-5.25, -4.9, -4.55, -3.85, -3.5, -3.15, -2.45, -2.1, -1.75, -1.05, -0.7, -0.35, 0.35, 0.7, 1.05, 1.75, 2.1, 2.45, 3.15, 3.5, 3.85, 4.55, 4.9, 5.25], "labels": false, "tickSize": -3, "title": null}},
                "y": {"datum": -50, "type": "quantitative", "axis": {"orient": "right", "values": [-108, -106, -104, -102, -98, -96, -94, -92, -88, -86, -84, -82, -78, -76, -74, -72, -68, -66, -64, -62, -58, -56, -54, -52, -48, -46, -44, -42], "labels": false, "tickSize": -3, "title": null}}
              }
            }
          ]
        },
        {
          "width": 380, "height": 291,
          "data": {"name": "b"},
          "title": {"text": "b", "anchor": "start", "frame": "group", "dx": -58, "offset": -25, "baseline": "alphabetic", "font": "Liberation Sans", "fontSize": 30, "fontWeight": "bold", "color": "#000000"},
          "view": {"stroke": "#262626", "strokeWidth": 1, "fill": "white"},
          "resolve": {"axis": {"x": "independent", "y": "independent"}},
          "layer": [
            {
              "mark": {"type": "line", "strokeWidth": 2, "clip": true},
              "encoding": {
                "x": {"field": "f", "type": "quantitative", "scale": {"domain": [-19.5, 19.5], "nice": false, "zero": false},
                      "axis": {"orient": "bottom", "values": [-15, -10, -5, 0, 5, 10, 15], "ticks": false, "labelPadding": 9, "labelFlush": false, "title": "Frequency (MHz)", "titlePadding": 8}},
                "y": {"field": "p", "type": "quantitative", "scale": {"domain": [-120, -40], "nice": false, "zero": false},
                      "axis": {"orient": "left", "values": [-120, -110, -100, -90, -80, -70, -60, -50, -40], "ticks": false, "labelPadding": 5, "title": "Power Spectral Density (dB/Hz)", "titlePadding": 8}},
                "color": {"field": "s", "type": "nominal",
                          "scale": {"domain": ["LINC", "MM-LINC", "Markov MM-Linc"], "range": ["#595959", "#000000", "#1c3296"]},
                          "legend": {"orient": "none", "legendX": 216, "legendY": 10, "title": null, "padding": 3.5, "rowPadding": 4.7, "clipHeight": 14, "fillColor": "white", "strokeColor": "#262626", "symbolType": "stroke", "symbolSize": 1100, "symbolStrokeWidth": 2, "symbolOffset": 2.5, "labelOffset": 6.5}}
              }
            },
            {
              "data": {"values": [{}]},
              "mark": {"type": "point", "opacity": 0},
              "encoding": {
                "x": {"datum": 0, "type": "quantitative", "scale": {"domain": [-19.5, 19.5], "nice": false, "zero": false}, "axis": {"orient": "bottom", "values": [-15, -10, -5, 0, 5, 10, 15], "labels": false, "tickSize": -6, "title": null}},
                "y": {"datum": -50, "type": "quantitative", "scale": {"domain": [-120, -40], "nice": false, "zero": false}, "axis": {"orient": "left", "values": [-120, -110, -100, -90, -80, -70, -60, -50, -40], "labels": false, "tickSize": -6, "title": null}}
              }
            },
            {
              "data": {"values": [{}]},
              "mark": {"type": "point", "opacity": 0},
              "encoding": {
                "x": {"datum": 0, "type": "quantitative", "axis": {"orient": "bottom", "values": [-19, -18, -17, -16, -14, -13, -12, -11, -9, -8, -7, -6, -4, -3, -2, -1, 1, 2, 3, 4, 6, 7, 8, 9, 11, 12, 13, 14, 16, 17, 18, 19], "labels": false, "tickSize": -3, "title": null}},
                "y": {"datum": -50, "type": "quantitative", "axis": {"orient": "left", "values": [-118, -116, -114, -112, -108, -106, -104, -102, -98, -96, -94, -92, -88, -86, -84, -82, -78, -76, -74, -72, -68, -66, -64, -62, -58, -56, -54, -52, -48, -46, -44, -42], "labels": false, "tickSize": -3, "title": null}}
              }
            },
            {
              "data": {"values": [{}]},
              "mark": {"type": "point", "opacity": 0},
              "encoding": {
                "x": {"datum": 0, "type": "quantitative", "axis": {"orient": "top", "values": [-15, -10, -5, 0, 5, 10, 15], "labels": false, "tickSize": -6, "title": null}},
                "y": {"datum": -50, "type": "quantitative", "axis": {"orient": "right", "values": [-120, -110, -100, -90, -80, -70, -60, -50, -40], "labels": false, "tickSize": -6, "title": null}}
              }
            },
            {
              "data": {"values": [{}]},
              "mark": {"type": "point", "opacity": 0},
              "encoding": {
                "x": {"datum": 0, "type": "quantitative", "axis": {"orient": "top", "values": [-19, -18, -17, -16, -14, -13, -12, -11, -9, -8, -7, -6, -4, -3, -2, -1, 1, 2, 3, 4, 6, 7, 8, 9, 11, 12, 13, 14, 16, 17, 18, 19], "labels": false, "tickSize": -3, "title": null}},
                "y": {"datum": -50, "type": "quantitative", "axis": {"orient": "right", "values": [-118, -116, -114, -112, -108, -106, -104, -102, -98, -96, -94, -92, -88, -86, -84, -82, -78, -76, -74, -72, -68, -66, -64, -62, -58, -56, -54, -52, -48, -46, -44, -42], "labels": false, "tickSize": -3, "title": null}}
              }
            }
          ]
        }
      ],
      "spacing": 87,
      "bounds": "flush",
      "resolve": {"scale": {"color": "independent"}, "legend": {"color": "independent"}}
    },
    {
      "width": 1285,
      "height": 120,
      "data": {"values": [{}]},
      "layer": [
        {
          "mark": {"type": "rect", "filled": false, "stroke": "#8a8a8a", "strokeWidth": 1.5, "cornerRadius": 6, "clip": false},
          "encoding": {
            "x": {"datum": 0, "type": "quantitative", "scale": {"domain": [0, 1285], "nice": false, "zero": false}, "axis": null},
            "x2": {"datum": 1285},
            "y": {"datum": 0, "type": "quantitative", "scale": {"domain": [350, 470], "nice": false, "zero": false, "reverse": true}, "axis": null},
            "y2": {"datum": 480}
          }
        },
        {
          "mark": {"type": "text", "text": "Fig. 6", "align": "left", "baseline": "alphabetic", "font": "Lato", "fontWeight": "bold", "fontSize": 19, "color": "#231f20"},
          "encoding": {"x": {"datum": 13, "type": "quantitative", "axis": null}, "y": {"datum": 431, "type": "quantitative", "axis": null}}
        },
        {
          "mark": {"type": "text", "text": "Simulation results with LINC, MM-LINC, Markov-LINC, and direct amplification.", "align": "left", "baseline": "alphabetic", "font": "Lato", "fontWeight": "normal", "fontSize": 19, "color": "#231f20"},
          "encoding": {"x": {"datum": 65, "type": "quantitative", "axis": null}, "y": {"datum": 431, "type": "quantitative", "axis": null}}
        },
        {
          "mark": {"type": "text", "text": "a", "align": "left", "baseline": "alphabetic", "font": "Lato", "fontWeight": "bold", "fontSize": 19, "color": "#231f20"},
          "encoding": {"x": {"datum": 732, "type": "quantitative", "axis": null}, "y": {"datum": 431, "type": "quantitative", "axis": null}}
        },
        {
          "mark": {"type": "text", "text": "OFDM with 1.4 MHz bandwidth.", "align": "left", "baseline": "alphabetic", "font": "Lato", "fontWeight": "normal", "fontSize": 19, "color": "#231f20"},
          "encoding": {"x": {"datum": 747, "type": "quantitative", "axis": null}, "y": {"datum": 431, "type": "quantitative", "axis": null}}
        },
        {
          "mark": {"type": "text", "text": "b", "align": "left", "baseline": "alphabetic", "font": "Lato", "fontWeight": "bold", "fontSize": 19, "color": "#231f20"},
          "encoding": {"x": {"datum": 1027, "type": "quantitative", "axis": null}, "y": {"datum": 431, "type": "quantitative", "axis": null}}
        },
        {
          "mark": {"type": "text", "text": "OFDM with 5 MHz", "align": "left", "baseline": "alphabetic", "font": "Lato", "fontWeight": "normal", "fontSize": 19, "color": "#231f20"},
          "encoding": {"x": {"datum": 1042, "type": "quantitative", "axis": null}, "y": {"datum": 431, "type": "quantitative", "axis": null}}
        },
        {
          "mark": {"type": "text", "text": "bandwidth", "align": "left", "baseline": "alphabetic", "font": "Lato", "fontWeight": "normal", "fontSize": 19, "color": "#231f20"},
          "encoding": {"x": {"datum": 13, "type": "quantitative", "axis": null}, "y": {"datum": 455, "type": "quantitative", "axis": null}}
        }
      ]
    }
  ]
}
